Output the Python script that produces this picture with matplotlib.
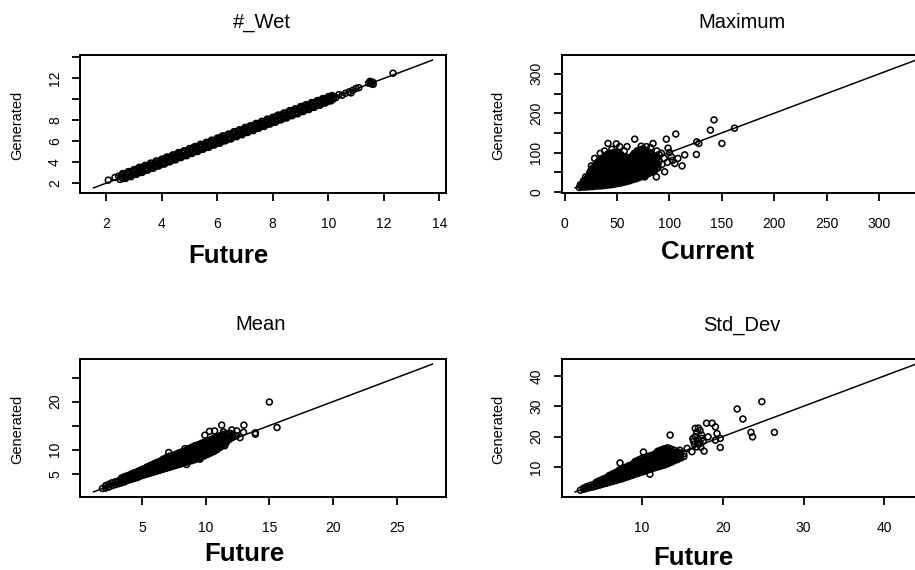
import matplotlib
matplotlib.use("Agg")
import matplotlib.pyplot as plt
import numpy as np

plt.rcParams['font.family'] = ['Liberation Sans', 'DejaVu Sans']

# ---------------- data ----------------
titles = ["#_Wet", "Maximum", "Mean", "Std_Dev"]
xlabels = ["Future", "Current", "Future", "Future"]
ylabel_text = "Generated"

# range of (x, y) values used for the axis limits and the 1:1 line
wet_range = (1.55, 13.75)
max_range = (10, 335)
mean_range = (1.2, 27.8)
std_range = (1.75, 43.9)

wet_xticks = [2, 4, 6, 8, 10, 12, 14]
wet_yticks = [2, 4, 6, 8, 10, 12, 14]
wet_yticklabels = ["2", "4", "6", "8", "", "12", ""]
max_xticks = [0, 50, 100, 150, 200, 250, 300]
max_yticks = [0, 50, 100, 150, 200, 250, 300]
max_yticklabels = ["0", "", "100", "", "200", "", "300"]
mean_xticks = [5, 10, 15, 20, 25]
mean_yticks = [5, 10, 15, 20, 25]
mean_yticklabels = ["5", "10", "", "20", ""]
std_xticks = [10, 20, 30, 40]
std_yticks = [10, 20, 30, 40]
std_yticklabels = ["10", "20", "30", "40"]

# (future, generated) pairs read from the #_Wet panel
wet_points = [
    (2.08, 2.29), (2.32, 2.55),
    (2.45, 2.67), (2.56, 2.73), (2.64, 2.89), (2.76, 2.95), (2.84, 3.07), (2.95, 3.10),
    (3.06, 3.27), (3.14, 3.40), (3.26, 3.44), (3.35, 3.55), (3.45, 3.67), (3.56, 3.73),
    (3.64, 3.89), (3.76, 3.95), (3.84, 4.07), (3.95, 4.10), (4.06, 4.27), (4.14, 4.40),
    (4.26, 4.44), (4.35, 4.55), (4.45, 4.67), (4.56, 4.73), (4.64, 4.89), (4.76, 4.95),
    (4.84, 5.07), (4.95, 5.10), (5.06, 5.27), (5.14, 5.40), (5.26, 5.44), (5.35, 5.55),
    (5.45, 5.67), (5.56, 5.73), (5.64, 5.89), (5.76, 5.95), (5.84, 6.07), (5.95, 6.10),
    (6.06, 6.27), (6.14, 6.40), (6.26, 6.44), (6.35, 6.55), (6.45, 6.67), (6.56, 6.73),
    (6.64, 6.89), (6.76, 6.95), (6.84, 7.07), (6.95, 7.10), (7.06, 7.27), (7.14, 7.40),
    (7.26, 7.44), (7.35, 7.55), (7.45, 7.67), (7.56, 7.73), (7.64, 7.89), (7.76, 7.95),
    (7.84, 8.07), (7.95, 8.10), (8.06, 8.27), (8.14, 8.40), (8.26, 8.44), (8.35, 8.55),
    (8.45, 8.67), (8.56, 8.73), (8.64, 8.89), (8.76, 8.95), (8.84, 9.07), (8.95, 9.10),
    (9.06, 9.27), (9.14, 9.40), (9.26, 9.44), (9.35, 9.55), (9.45, 9.67), (9.56, 9.73),
    (9.64, 9.89), (9.76, 9.95), (9.84, 10.07), (9.95, 10.10), (10.06, 10.27), (10.14, 10.36),
    (2.50, 2.36), (2.61, 2.44), (2.70, 2.58), (2.79, 2.62), (2.90, 2.76), (3.01, 2.83),
    (3.10, 2.97), (3.19, 3.02), (3.30, 3.16), (3.41, 3.23), (3.50, 3.36), (3.61, 3.44),
    (3.70, 3.58), (3.79, 3.62), (3.90, 3.76), (4.01, 3.83), (4.10, 3.97), (4.19, 4.02),
    (4.30, 4.16), (4.41, 4.23), (4.50, 4.36), (4.61, 4.44), (4.70, 4.58), (4.79, 4.62),
    (4.90, 4.76), (5.01, 4.83), (5.10, 4.97), (5.19, 5.02), (5.30, 5.16), (5.41, 5.23),
    (5.50, 5.36), (5.61, 5.44), (5.70, 5.58), (5.79, 5.62), (5.90, 5.76), (6.01, 5.83),
    (6.10, 5.97), (6.19, 6.02), (6.30, 6.16), (6.41, 6.23), (6.50, 6.36), (6.61, 6.44),
    (6.70, 6.58), (6.79, 6.62), (6.90, 6.76), (7.01, 6.83), (7.10, 6.97), (7.19, 7.02),
    (7.30, 7.16), (7.41, 7.23), (7.50, 7.36), (7.61, 7.44), (7.70, 7.58), (7.79, 7.62),
    (7.90, 7.76), (8.01, 7.83), (8.10, 7.97), (8.19, 8.02), (8.30, 8.16), (8.41, 8.23),
    (8.50, 8.36), (8.61, 8.44), (8.70, 8.58), (8.79, 8.62), (8.90, 8.76), (9.01, 8.83),
    (9.10, 8.97), (9.19, 9.02), (9.30, 9.16), (9.41, 9.23), (9.50, 9.36), (9.61, 9.44),
    (9.70, 9.58), (9.79, 9.62), (9.90, 9.76), (10.01, 9.83), (10.10, 9.97), (10.19, 10.05),
    (10.28, 10.18),
    (2.55, 2.56), (2.70, 2.73), (2.85, 2.86), (3.00, 3.03), (3.15, 3.16), (3.30, 3.33),
    (3.45, 3.46), (3.60, 3.63), (3.75, 3.76), (3.90, 3.93), (4.05, 4.06), (4.20, 4.23),
    (4.35, 4.36), (4.50, 4.53), (4.65, 4.66), (4.80, 4.83), (4.95, 4.96), (5.10, 5.13),
    (5.25, 5.26), (5.40, 5.43), (5.55, 5.56), (5.70, 5.73), (5.85, 5.86), (6.00, 6.03),
    (6.15, 6.16), (6.30, 6.33), (6.45, 6.46), (6.60, 6.63), (6.75, 6.76), (6.90, 6.93),
    (7.05, 7.06), (7.20, 7.23), (7.35, 7.36), (7.50, 7.53), (7.65, 7.66), (7.80, 7.83),
    (7.95, 7.96), (8.10, 8.13), (8.25, 8.26), (8.40, 8.43), (8.55, 8.56), (8.70, 8.73),
    (8.85, 8.86), (9.00, 9.03), (9.15, 9.16), (9.30, 9.33), (9.45, 9.46), (9.60, 9.63),
    (9.75, 9.76), (9.90, 9.93), (10.05, 10.06), (10.20, 10.23),
    (2.60, 2.92), (2.80, 3.11), (3.00, 3.29), (3.20, 3.52), (3.40, 3.70), (3.60, 3.91),
    (3.80, 4.12), (4.00, 4.29), (4.20, 4.51), (4.40, 4.70), (4.60, 4.92), (4.80, 5.09),
    (5.00, 5.31), (5.20, 5.50), (5.40, 5.72), (5.60, 5.89), (5.80, 6.11), (6.00, 6.30),
    (6.20, 6.52), (6.40, 6.69), (6.60, 6.91), (6.80, 7.10), (7.00, 7.32), (7.20, 7.49),
    (7.40, 7.71), (7.60, 7.90), (7.80, 8.12), (8.00, 8.29), (8.20, 8.51), (8.40, 8.70),
    (8.60, 8.92), (8.80, 9.09), (9.00, 9.31), (9.20, 9.50), (9.40, 9.70), (9.60, 9.88),
    (9.80, 10.08), (10.00, 10.26),
    (2.70, 2.45), (2.90, 2.62), (3.10, 2.84), (3.30, 3.02), (3.50, 3.24), (3.70, 3.42),
    (3.90, 3.64), (4.10, 3.82), (4.30, 4.04), (4.50, 4.22), (4.70, 4.44), (4.90, 4.62),
    (5.10, 4.84), (5.30, 5.02), (5.50, 5.24), (5.70, 5.42), (5.90, 5.64), (6.10, 5.82),
    (6.30, 6.04), (6.50, 6.22), (6.70, 6.44), (6.90, 6.62), (7.10, 6.84), (7.30, 7.02),
    (7.50, 7.24), (7.70, 7.42), (7.90, 7.64), (8.10, 7.82), (8.30, 8.04), (8.50, 8.22),
    (8.70, 8.44), (8.90, 8.62), (9.10, 8.84), (9.30, 9.02), (9.50, 9.24), (9.70, 9.44),
    (9.90, 9.66), (10.10, 9.86),
    (10.38, 10.45), (10.50, 10.40), (10.62, 10.58), (10.75, 10.72), (10.88, 10.86),
    (11.00, 11.05), (10.82, 10.62), (11.10, 11.12),
    (11.45, 11.55), (11.50, 11.72), (11.55, 11.48), (11.60, 11.65), (11.62, 11.44),
    (11.52, 11.60), (12.33, 12.50),
]

# (current, generated) pairs
max_points = [
    (14, 11), (15, 18),
    (17, 12), (17, 20), (18, 28),
    (20, 12), (20, 21), (21, 30), (20, 38),
    (23, 13), (23, 22), (24, 31), (23, 40), (24, 48),
    (26, 13), (26, 22), (27, 31), (26, 40), (27, 49), (26, 58),
    (29, 14), (29, 23), (30, 32), (29, 41), (30, 50), (29, 59), (30, 68),
    (32, 15), (32, 24), (33, 33), (32, 42), (33, 51), (32, 60), (33, 69), (32, 77),
    (35, 15), (35, 24), (36, 33), (35, 42), (36, 51), (35, 60), (36, 69), (35, 78), (36, 86),
    (38, 16), (38, 25), (39, 34), (38, 43), (39, 52), (38, 61), (39, 70), (38, 79), (39, 88),
    (41, 17), (41, 26), (42, 35), (41, 44), (42, 53), (41, 62), (42, 71), (41, 80), (42, 89), (41, 96),
    (44, 18), (44, 27), (45, 36), (44, 45), (45, 54), (44, 63), (45, 72), (44, 81), (45, 90), (44, 98),
    (47, 19), (47, 28), (48, 37), (47, 46), (48, 55), (47, 64), (48, 73), (47, 82), (48, 91), (47, 100),
    (50, 21), (50, 30), (51, 39), (50, 48), (51, 57), (50, 66), (51, 75), (50, 84), (51, 93), (50, 101),
    (53, 22), (53, 31), (54, 40), (53, 49), (54, 58), (53, 67), (54, 76), (53, 85), (54, 94),
    (56, 24), (56, 33), (57, 42), (56, 51), (57, 60), (56, 69), (57, 78), (56, 87),
    (59, 26), (59, 35), (60, 44), (59, 53), (60, 62), (59, 71), (60, 80), (59, 88),
    (62, 28), (62, 37), (63, 46), (62, 55), (63, 64), (62, 73), (63, 82),
    (65, 31), (65, 40), (66, 49), (65, 58), (66, 67), (65, 76), (66, 85), (65, 93),
    (68, 33), (68, 42), (69, 51), (68, 60), (69, 69), (68, 78), (69, 87), (68, 96), (69, 104),
    (71, 36), (71, 45), (72, 54), (71, 63), (72, 72), (71, 81), (72, 90), (71, 99), (72, 107),
    (74, 39), (74, 48), (75, 57), (74, 66), (75, 75), (74, 84), (75, 93), (74, 102), (75, 110),
    (77, 42), (77, 51), (78, 60), (77, 69), (78, 78), (77, 87), (78, 96), (77, 105),
    (80, 46), (80, 55), (81, 64), (80, 73), (81, 82), (80, 91), (81, 100),
    (83, 50), (83, 59), (84, 68), (83, 77), (84, 86), (83, 95),
    (86, 55), (86, 64), (87, 73), (86, 82), (87, 90),
    (89, 61), (89, 70), (90, 79), (89, 87),
    (15.5, 15),
    (18.5, 16), (18.5, 24),
    (21.5, 17), (21.5, 26), (21.5, 35),
    (24.5, 18), (24.5, 27), (24.5, 36), (24.5, 44), (24.5, 52),
    (27.5, 18), (27.5, 27), (27.5, 36), (27.5, 45), (27.5, 54), (27.5, 62),
    (30.5, 19), (30.5, 28), (30.5, 37), (30.5, 46), (30.5, 55), (30.5, 64), (30.5, 72),
    (33.5, 20), (33.5, 29), (33.5, 38), (33.5, 47), (33.5, 56), (33.5, 65), (33.5, 73), (33.5, 81),
    (36.5, 20), (36.5, 29), (36.5, 38), (36.5, 47), (36.5, 56), (36.5, 65), (36.5, 74), (36.5, 83),
    (39.5, 21), (39.5, 30), (39.5, 39), (39.5, 48), (39.5, 57), (39.5, 66), (39.5, 75), (39.5, 84), (39.5, 92),
    (42.5, 22), (42.5, 31), (42.5, 40), (42.5, 49), (42.5, 58), (42.5, 67), (42.5, 76), (42.5, 85), (42.5, 93),
    (45.5, 23), (45.5, 32), (45.5, 41), (45.5, 50), (45.5, 59), (45.5, 68), (45.5, 77), (45.5, 86), (45.5, 95),
    (48.5, 24), (48.5, 33), (48.5, 42), (48.5, 51), (48.5, 60), (48.5, 69), (48.5, 78), (48.5, 87), (48.5, 96),
    (51.5, 26), (51.5, 35), (51.5, 44), (51.5, 53), (51.5, 62), (51.5, 71), (51.5, 80), (51.5, 89), (51.5, 97),
    (54.5, 27), (54.5, 36), (54.5, 45), (54.5, 54), (54.5, 63), (54.5, 72), (54.5, 81), (54.5, 90),
    (57.5, 29), (57.5, 38), (57.5, 47), (57.5, 56), (57.5, 65), (57.5, 74), (57.5, 83),
    (60.5, 31), (60.5, 40), (60.5, 49), (60.5, 58), (60.5, 67), (60.5, 76), (60.5, 84),
    (63.5, 33), (63.5, 42), (63.5, 51), (63.5, 60), (63.5, 69), (63.5, 78), (63.5, 87),
    (66.5, 36), (66.5, 45), (66.5, 54), (66.5, 63), (66.5, 72), (66.5, 81), (66.5, 90), (66.5, 98),
    (69.5, 38), (69.5, 47), (69.5, 56), (69.5, 65), (69.5, 74), (69.5, 83), (69.5, 92), (69.5, 101),
    (72.5, 41), (72.5, 50), (72.5, 59), (72.5, 68), (72.5, 77), (72.5, 86), (72.5, 95), (72.5, 104),
    (75.5, 44), (75.5, 53), (75.5, 62), (75.5, 71), (75.5, 80), (75.5, 89), (75.5, 98), (75.5, 106),
    (78.5, 47), (78.5, 56), (78.5, 65), (78.5, 74), (78.5, 83), (78.5, 92), (78.5, 101),
    (81.5, 51), (81.5, 60), (81.5, 69), (81.5, 78), (81.5, 87), (81.5, 96),
    (84.5, 56), (84.5, 65), (84.5, 74), (84.5, 83), (84.5, 91),
    (87.5, 60), (87.5, 69), (87.5, 78), (87.5, 86),
    (25.5, 66), (28.6, 85), (34, 98), (41.4, 123), (49.3, 122), (52.5, 115), (59.5, 115),
    (66.8, 134), (78, 115), (84.3, 123), (97, 134), (106, 147), (98.6, 111), (92.3, 98),
    (86, 77), (101.8, 89), (108, 85), (114.5, 94), (112, 66), (105, 72), (95.4, 51),
    (87.5, 38), (76.4, 38), (125.7, 95), (126, 127), (128, 123), (139, 157), (142.5, 183),
    (150, 123), (162, 162), (90, 95), (95, 85), (100, 100), (103, 80), (98, 75), (93, 70),
    (38, 104), (45, 108), (57, 104), (73, 116), (82, 112), (88, 104),
]

# (future, generated) pairs
mean_points = [
    (1.9, 1.9),
    (2.15, 2.0), (2.15, 2.5),
    (2.4, 2.2), (2.4, 2.8),
    (2.65, 2.5), (2.65, 3.1),
    (2.9, 2.7), (2.9, 3.3),
    (3.15, 2.9), (3.15, 3.5),
    (3.4, 3.1), (3.4, 3.7), (3.4, 4.1),
    (3.65, 3.3), (3.65, 3.9), (3.65, 4.4),
    (3.9, 3.6), (3.9, 4.2), (3.9, 4.6),
    (4.15, 3.8), (4.15, 4.4), (4.15, 4.9),
    (4.4, 4.0), (4.4, 4.6), (4.4, 5.2),
    (4.65, 4.2), (4.65, 4.8), (4.65, 5.4),
    (4.9, 4.5), (4.9, 5.1), (4.9, 5.7),
    (5.15, 4.7), (5.15, 5.3), (5.15, 5.9),
    (5.4, 4.9), (5.4, 5.5), (5.4, 6.1), (5.4, 6.4),
    (5.65, 5.1), (5.65, 5.7), (5.65, 6.3), (5.65, 6.7),
    (5.9, 5.3), (5.9, 5.9), (5.9, 6.5), (5.9, 7.0),
    (6.15, 5.5), (6.15, 6.1), (6.15, 6.7), (6.15, 7.3),
    (6.4, 5.7), (6.4, 6.3), (6.4, 6.9), (6.4, 7.5),
    (6.65, 5.9), (6.65, 6.5), (6.65, 7.1), (6.65, 7.7), (6.65, 8.0),
    (6.9, 6.1), (6.9, 6.7), (6.9, 7.3), (6.9, 7.9), (6.9, 8.3),
    (7.15, 6.3), (7.15, 6.9), (7.15, 7.5), (7.15, 8.1), (7.15, 8.6),
    (7.4, 6.5), (7.4, 7.1), (7.4, 7.7), (7.4, 8.3), (7.4, 8.8),
    (7.65, 6.7), (7.65, 7.3), (7.65, 7.9), (7.65, 8.5), (7.65, 9.0),
    (7.9, 6.9), (7.9, 7.5), (7.9, 8.1), (7.9, 8.7), (7.9, 9.3),
    (8.15, 7.1), (8.15, 7.7), (8.15, 8.3), (8.15, 8.9), (8.15, 9.5),
    (8.4, 7.3), (8.4, 7.9), (8.4, 8.5), (8.4, 9.1), (8.4, 9.7),
    (8.65, 7.5), (8.65, 8.1), (8.65, 8.7), (8.65, 9.3), (8.65, 9.9), (8.65, 10.2),
    (8.9, 7.7), (8.9, 8.3), (8.9, 8.9), (8.9, 9.5), (8.9, 10.1), (8.9, 10.5),
    (9.15, 7.9), (9.15, 8.5), (9.15, 9.1), (9.15, 9.7), (9.15, 10.3), (9.15, 10.8),
    (9.4, 8.2), (9.4, 8.8), (9.4, 9.4), (9.4, 10.0), (9.4, 10.6), (9.4, 11.0),
    (9.65, 8.4), (9.65, 9.0), (9.65, 9.6), (9.65, 10.2), (9.65, 10.8), (9.65, 11.3),
    (9.9, 8.7), (9.9, 9.3), (9.9, 9.9), (9.9, 10.5), (9.9, 11.1), (9.9, 11.6),
    (10.15, 9.0), (10.15, 9.6), (10.15, 10.2), (10.15, 10.8), (10.15, 11.4), (10.15, 11.8),
    (10.4, 9.3), (10.4, 9.9), (10.4, 10.5), (10.4, 11.1), (10.4, 11.7), (10.4, 12.1),
    (10.65, 9.6), (10.65, 10.2), (10.65, 10.8), (10.65, 11.4), (10.65, 12.0), (10.65, 12.4),
    (10.9, 10.0), (10.9, 10.6), (10.9, 11.2), (10.9, 11.8), (10.9, 12.4), (10.9, 12.7),
    (11.15, 10.5), (11.15, 11.1), (11.15, 11.7), (11.15, 12.3), (11.15, 12.9),
    (11.4, 11.0), (11.4, 11.6), (11.4, 12.2), (11.4, 12.8), (11.4, 13.2),
    (11.65, 11.6), (11.65, 12.2), (11.65, 12.8), (11.65, 13.3),
    (11.9, 12.2), (11.9, 12.8), (11.9, 13.4),
    (12.15, 12.6), (12.15, 13.2),
    (3.525, 3.4), (3.525, 4.0), (3.775, 3.6), (3.775, 4.2), (4.025, 3.9), (4.025, 4.5),
    (4.275, 4.1), (4.275, 4.7), (4.525, 4.3), (4.525, 4.9),
    (4.775, 4.5), (4.775, 5.1), (4.775, 5.6), (5.025, 4.8), (5.025, 5.4), (5.025, 5.9),
    (5.275, 5.0), (5.275, 5.6), (5.275, 6.1), (5.525, 5.2), (5.525, 5.8), (5.525, 6.4),
    (5.775, 5.4), (5.775, 6.0), (5.775, 6.6),
    (6.025, 5.6), (6.025, 6.2), (6.025, 6.8), (6.025, 7.1),
    (6.275, 5.8), (6.275, 6.4), (6.275, 7.0), (6.275, 7.4),
    (6.525, 6.0), (6.525, 6.6), (6.525, 7.2), (6.525, 7.7),
    (6.775, 6.2), (6.775, 6.8), (6.775, 7.4), (6.775, 8.0),
    (7.025, 6.4), (7.025, 7.0), (7.025, 7.6), (7.025, 8.2),
    (7.275, 6.6), (7.275, 7.2), (7.275, 7.8), (7.275, 8.4),
    (7.525, 6.8), (7.525, 7.4), (7.525, 8.0), (7.525, 8.6),
    (7.775, 7.0), (7.775, 7.6), (7.775, 8.2), (7.775, 8.8), (7.775, 9.1),
    (8.025, 7.2), (8.025, 7.8), (8.025, 8.4), (8.025, 9.0), (8.025, 9.4),
    (8.275, 7.4), (8.275, 8.0), (8.275, 8.6), (8.275, 9.2), (8.275, 9.6),
    (8.525, 7.6), (8.525, 8.2), (8.525, 8.8), (8.525, 9.4), (8.525, 9.9),
    (8.775, 7.8), (8.775, 8.4), (8.775, 9.0), (8.775, 9.6), (8.775, 10.2),
    (9.025, 8.0), (9.025, 8.6), (9.025, 9.2), (9.025, 9.8), (9.025, 10.4),
    (9.275, 8.3), (9.275, 8.9), (9.275, 9.5), (9.275, 10.1), (9.275, 10.7),
    (9.525, 8.5), (9.525, 9.1), (9.525, 9.7), (9.525, 10.3), (9.525, 10.9),
    (9.775, 8.8), (9.775, 9.4), (9.775, 10.0), (9.775, 10.6), (9.775, 11.2),
    (10.025, 9.1), (10.025, 9.7), (10.025, 10.3), (10.025, 10.9), (10.025, 11.5),
    (10.275, 9.4), (10.275, 10.0), (10.275, 10.6), (10.275, 11.2), (10.275, 11.8),
    (10.525, 9.7), (10.525, 10.3), (10.525, 10.9), (10.525, 11.5), (10.525, 12.1),
    (10.775, 10.1), (10.775, 10.7), (10.775, 11.3), (10.775, 11.9), (10.775, 12.4),
    (11.025, 10.5), (11.025, 11.1), (11.025, 11.7), (11.025, 12.3),
    (11.275, 11.0), (11.275, 11.6), (11.275, 12.2), (11.275, 12.8),
    (11.525, 11.5), (11.525, 12.1), (11.525, 12.7),
    (11.775, 12.1), (11.775, 12.7),
    (15.0, 19.9), (15.6, 14.6), (13.9, 13.2), (13.9, 13.5), (13.0, 15.1), (11.26, 15.1),
    (9.94, 13.0), (7.1, 9.4), (8.37, 10.2), (11.5, 10.8), (8.5, 6.9), (9.55, 8.0),
    (10.7, 13.9), (11.4, 13.7), (12.05, 14.1), (12.45, 13.9), (12.97, 13.6), (12.7, 12.5),
    (10.3, 13.8), (12.4, 12.9),
]

# (future, generated) pairs
std_points = [
    (2.4, 2.3),
    (2.8, 2.6), (2.8, 3.0),
    (3.2, 2.9), (3.2, 3.5),
    (3.6, 3.2), (3.6, 3.9),
    (4.0, 3.4), (4.0, 4.2),
    (4.4, 3.7), (4.4, 4.6), (4.4, 5.0),
    (4.8, 4.0), (4.8, 4.9), (4.8, 5.5),
    (5.2, 4.3), (5.2, 5.2), (5.2, 6.0),
    (5.6, 4.6), (5.6, 5.5), (5.6, 6.4),
    (6.0, 4.9), (6.0, 5.8), (6.0, 6.7), (6.0, 7.2),
    (6.4, 5.2), (6.4, 6.1), (6.4, 7.0), (6.4, 7.7),
    (6.8, 5.5), (6.8, 6.4), (6.8, 7.3), (6.8, 8.2),
    (7.2, 5.8), (7.2, 6.7), (7.2, 7.6), (7.2, 8.5), (7.2, 8.9),
    (7.6, 6.1), (7.6, 7.0), (7.6, 7.9), (7.6, 8.8), (7.6, 9.4),
    (8.0, 6.5), (8.0, 7.4), (8.0, 8.3), (8.0, 9.2), (8.0, 9.9),
    (8.4, 6.8), (8.4, 7.7), (8.4, 8.6), (8.4, 9.5), (8.4, 10.4),
    (8.8, 7.2), (8.8, 8.1), (8.8, 9.0), (8.8, 9.9), (8.8, 10.8),
    (9.2, 7.6), (9.2, 8.5), (9.2, 9.4), (9.2, 10.3), (9.2, 11.2), (9.2, 11.8),
    (9.6, 7.9), (9.6, 8.8), (9.6, 9.7), (9.6, 10.6), (9.6, 11.5), (9.6, 12.3),
    (10.0, 8.3), (10.0, 9.2), (10.0, 10.1), (10.0, 11.0), (10.0, 11.9), (10.0, 12.8),
    (10.4, 8.6), (10.4, 9.5), (10.4, 10.4), (10.4, 11.3), (10.4, 12.2), (10.4, 13.1),
    (10.8, 9.0), (10.8, 9.9), (10.8, 10.8), (10.8, 11.7), (10.8, 12.6), (10.8, 13.5),
    (11.2, 9.3), (11.2, 10.2), (11.2, 11.1), (11.2, 12.0), (11.2, 12.9), (11.2, 13.8),
    (11.6, 9.7), (11.6, 10.6), (11.6, 11.5), (11.6, 12.4), (11.6, 13.3), (11.6, 14.2),
    (12.0, 10.0), (12.0, 10.9), (12.0, 11.8), (12.0, 12.7), (12.0, 13.6), (12.0, 14.5), (12.0, 15.2),
    (12.4, 10.3), (12.4, 11.2), (12.4, 12.1), (12.4, 13.0), (12.4, 13.9), (12.4, 14.8), (12.4, 15.6),
    (12.8, 10.6), (12.8, 11.5), (12.8, 12.4), (12.8, 13.3), (12.8, 14.2), (12.8, 15.1), (12.8, 16.0),
    (13.2, 11.0), (13.2, 11.9), (13.2, 12.8), (13.2, 13.7), (13.2, 14.6), (13.2, 15.5), (13.2, 16.3),
    (13.6, 11.5), (13.6, 12.4), (13.6, 13.3), (13.6, 14.2), (13.6, 15.1), (13.6, 15.9),
    (14.0, 12.0), (14.0, 12.9), (14.0, 13.8), (14.0, 14.7), (14.0, 15.5),
    (14.4, 12.4), (14.4, 13.3), (14.4, 14.2), (14.4, 15.0),
    (14.8, 12.9), (14.8, 13.8), (14.8, 14.6),
    (15.2, 13.4), (15.2, 14.3),
    (4.6, 4.2), (4.6, 5.0), (5.0, 4.5), (5.0, 5.4), (5.4, 4.8), (5.4, 5.7),
    (5.8, 5.1), (5.8, 6.0), (5.8, 6.7), (6.2, 5.4), (6.2, 6.3), (6.2, 7.1),
    (6.6, 5.7), (6.6, 6.6), (6.6, 7.5), (7.0, 6.0), (7.0, 6.9), (7.0, 7.8),
    (7.4, 6.3), (7.4, 7.2), (7.4, 8.1), (7.4, 8.9),
    (7.8, 6.7), (7.8, 7.6), (7.8, 8.5), (7.8, 9.3),
    (8.2, 7.0), (8.2, 7.9), (8.2, 8.8), (8.2, 9.7),
    (8.6, 7.4), (8.6, 8.3), (8.6, 9.2), (8.6, 10.1),
    (9.0, 7.8), (9.0, 8.7), (9.0, 9.6), (9.0, 10.5), (9.0, 11.2),
    (9.4, 8.1), (9.4, 9.0), (9.4, 9.9), (9.4, 10.8), (9.4, 11.6),
    (9.8, 8.5), (9.8, 9.4), (9.8, 10.3), (9.8, 11.2), (9.8, 12.1),
    (10.2, 8.8), (10.2, 9.7), (10.2, 10.6), (10.2, 11.5), (10.2, 12.4),
    (10.6, 9.2), (10.6, 10.1), (10.6, 11.0), (10.6, 11.9), (10.6, 12.8),
    (11.0, 9.5), (11.0, 10.4), (11.0, 11.3), (11.0, 12.2), (11.0, 13.1),
    (11.4, 9.9), (11.4, 10.8), (11.4, 11.7), (11.4, 12.6), (11.4, 13.5),
    (11.8, 10.2), (11.8, 11.1), (11.8, 12.0), (11.8, 12.9), (11.8, 13.8), (11.8, 14.6),
    (12.2, 10.5), (12.2, 11.4), (12.2, 12.3), (12.2, 13.2), (12.2, 14.1), (12.2, 15.0),
    (12.6, 10.8), (12.6, 11.7), (12.6, 12.6), (12.6, 13.5), (12.6, 14.4), (12.6, 15.3),
    (13.0, 11.2), (13.0, 12.1), (13.0, 13.0), (13.0, 13.9), (13.0, 14.8), (13.0, 15.7),
    (13.4, 11.7), (13.4, 12.6), (13.4, 13.5), (13.4, 14.4), (13.4, 15.3),
    (13.8, 12.2), (13.8, 13.1), (13.8, 14.0), (13.8, 14.9),
    (14.2, 12.6), (14.2, 13.5), (14.2, 14.4),
    (14.6, 13.1), (14.6, 14.0),
    (16.4, 18.5), (16.6, 20.0), (16.8, 21.5), (17.0, 19.0), (17.2, 22.0), (16.5, 17.5),
    (17.4, 20.5), (17.6, 18.5), (16.9, 17.8), (17.3, 16.5), (16.3, 19.3), (17.0, 22.8),
    (13.5, 20.5), (10.2, 14.9), (7.3, 11.3), (11.0, 7.6), (17.7, 15.2), (19.7, 16.4),
    (16.6, 22.7), (18.0, 24.4), (18.7, 24.4), (19.1, 23.2), (19.3, 21.0), (18.2, 19.9),
    (17.4, 19.4), (19.1, 18.8), (19.7, 19.4), (15.6, 16.1), (14.7, 15.5), (14.3, 13.9),
    (13.5, 12.2), (12.7, 12.2), (11.9, 11.1), (16.2, 15.0), (16.8, 16.6), (17.2, 17.7),
    (21.8, 29.1), (22.5, 25.8), (23.5, 21.4), (23.7, 19.9), (24.85, 31.5), (26.4, 21.4),
]

# ---------------- layout (pixels) ----------------
W, H = 915, 570
panel_boxes = [(80, 55, 446, 193), (561.5, 55, 929.5, 193),
               (80, 359, 446, 497), (561.5, 359, 929.5, 497)]
title_pos = [(262, 22), (742, 22), (261, 325), (742, 325)]
xlabel_pos = [(228, 256), (708, 252.5), (244, 554), (693, 558)]
ylabel_pos = [(17, 125), (498, 125), (17, 429), (498, 429)]

panels = [
    (wet_points, wet_range, wet_xticks, wet_yticks, wet_yticklabels),
    (max_points, max_range, max_xticks, max_yticks, max_yticklabels),
    (mean_points, mean_range, mean_xticks, mean_yticks, mean_yticklabels),
    (std_points, std_range, std_xticks, std_yticks, std_yticklabels),
]

fig = plt.figure(figsize=(W / 100, H / 100), dpi=100)
fig.patch.set_facecolor('white')

for i, (pts, rng, xt, yt, ytl) in enumerate(panels):
    l, t, r, b = panel_boxes[i]
    ax = fig.add_axes([l / W, 1 - b / H, (r - l) / W, (b - t) / H])
    arr = np.array(pts, dtype=float)
    lo, hi = rng
    pad = 0.04 * (hi - lo)
    ax.plot([lo, hi], [lo, hi], color='black', lw=1.1, zorder=2)
    ax.scatter(arr[:, 0], arr[:, 1], s=18, facecolors='none', edgecolors='black',
               linewidths=1.15, zorder=3)
    ax.set_xlim(lo - pad, hi + pad)
    ax.set_ylim(lo - pad, hi + pad)
    ax.set_xticks(xt)
    ax.set_xticklabels([str(v) for v in xt])
    ax.set_yticks(yt)
    ax.set_yticklabels(ytl, rotation=90, va='center')
    ax.tick_params(axis='both', direction='out', length=6, width=1.3,
                   labelsize=10, color='black')
    ax.tick_params(axis='x', pad=11)
    ax.tick_params(axis='y', pad=7)
    for sp in ax.spines.values():
        sp.set_linewidth(1.4)
    tx, ty = title_pos[i]
    fig.text(tx / W, 1 - ty / H, titles[i], ha='center', va='center', fontsize=14.5)
    xx, xy = xlabel_pos[i]
    fig.text(xx / W, 1 - xy / H, xlabels[i], ha='center', va='center',
             fontsize=18.5, fontweight='bold')
    yx, yy = ylabel_pos[i]
    fig.text(yx / W, 1 - yy / H, ylabel_text, ha='center', va='center',
             fontsize=10.5, rotation=90)

fig.savefig('out.png', dpi=100)
